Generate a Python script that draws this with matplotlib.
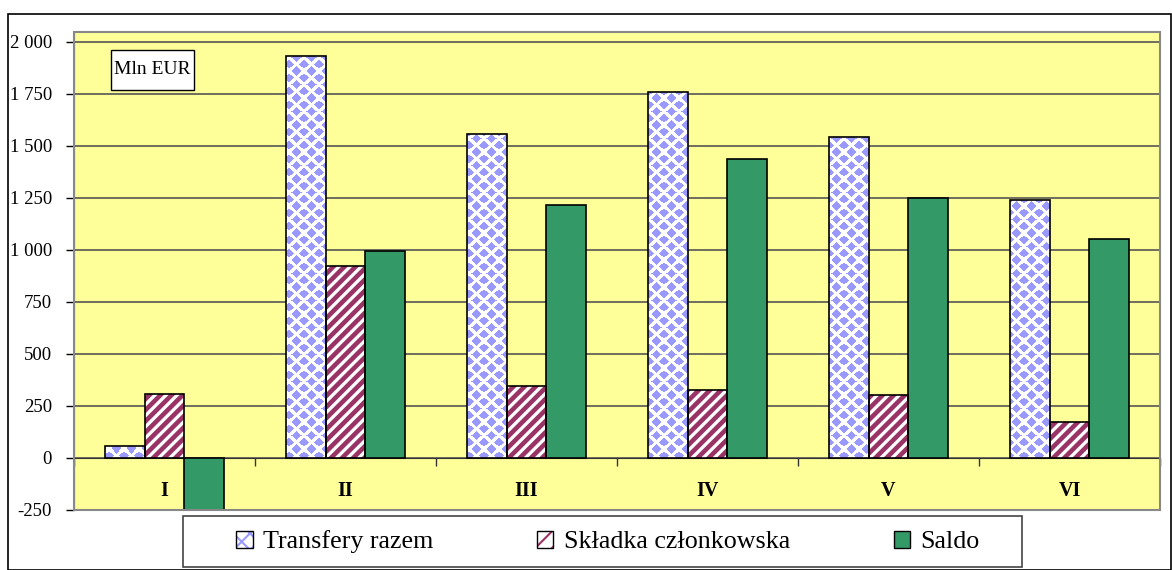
import matplotlib
matplotlib.use("Agg")
import matplotlib.pyplot as plt
import numpy as np
from matplotlib.patches import Rectangle, Patch
from matplotlib.ticker import FuncFormatter
from matplotlib.colors import to_rgb

categories = ["I", "II", "III", "IV", "V", "VI"]
transfery = [58, 1932, 1557, 1759, 1542, 1239]
skladka = [308, 925, 347, 328, 304, 173]
saldo = [-265, 993, 1214, 1436, 1248, 1055]
series_names = ["Transfery razem", "Składka członkowska", "Saldo"]
yticks = [-250, 0, 250, 500, 750, 1000, 1250, 1500, 1750, 2000]

plt.rcParams['font.family'] = ['Liberation Serif', 'DejaVu Serif']

W, H = 1172, 570
fig = plt.figure(figsize=(W/100, H/100), dpi=100)
fig.patches.append(Rectangle((8/W, 0), 1 - 8/W - 0.0005, 1 - 14/H,
                             transform=fig.transFigure, fill=False,
                             edgecolor='black', linewidth=1.2))

ax_l, ax_r, ax_t, ax_b = 74, 1160, 32, 510
ax = fig.add_axes([ax_l/W, 1 - ax_b/H, (ax_r - ax_l)/W, (ax_b - ax_t)/H])
ax.set_facecolor('#FFFF99')

# diamond-lattice texture for "Transfery razem"
pw, ph = ax_r - ax_l, ax_b - ax_t
yy, xx = np.mgrid[0:ph, 0:pw]
Xn, Yn = (xx + 3) / 15.0, (yy + 2) / 13.5
a, b = Xn + Yn, Xn - Yn
r = 0.34
mask = (np.abs(a - np.round(a)) <= r) & (np.abs(b - np.round(b)) <= r)
tex = np.ones((ph, pw, 3))
tex[mask] = to_rgb('#9999FF')

x = np.arange(len(categories))
w = 0.22
bars1 = ax.bar(x - w, transfery, w, facecolor='white', edgecolor='none',
               linewidth=0, zorder=3)
for p in bars1:
    im = ax.imshow(tex, extent=[0, 1, 0, 1], transform=ax.transAxes,
                   interpolation='nearest', aspect='auto', zorder=3.5)
    im.set_clip_path(p)
ax.bar(x - w, transfery, w, fill=False, edgecolor='black', linewidth=1.2, zorder=4)
plt.rcParams['hatch.linewidth'] = 3.3
ax.bar(x, skladka, w, facecolor='white', edgecolor='#993366',
       hatch='///', linewidth=0, zorder=3)
ax.bar(x, skladka, w, fill=False, edgecolor='black', linewidth=1.2, zorder=4)
ax.bar(x + w, saldo, w, facecolor='#339966', edgecolor='black',
       linewidth=1.2, zorder=3)

ax.set_ylim(-250, 2048)
ax.set_xlim(-0.5, len(categories) - 0.5)
ax.set_yticks(yticks)
ax.yaxis.set_major_formatter(FuncFormatter(
    lambda v, p: f"{int(v):,}".replace(",", " ")))
ax.tick_params(axis='y', labelsize=13.5, direction='out', length=6, width=1,
               pad=10)
ax.grid(axis='y', color='#555555', linewidth=1.2, zorder=1)
ax.set_axisbelow(True)

for s in ['top', 'right']:
    ax.spines[s].set_visible(False)
ax.spines['left'].set_color('#333333')
ax.spines['bottom'].set_position(('data', 0))
ax.spines['bottom'].set_color('#333333')
ax.set_xticks(np.arange(len(categories) + 1) - 0.5)
ax.set_xticklabels([])
ax.tick_params(axis='x', direction='out', length=6, width=1, color='#333333')
ax.add_patch(Rectangle((0, 0), 1, 1, transform=ax.transAxes, fill=False,
                       edgecolor='#888888', linewidth=1.5, zorder=5,
                       clip_on=False))

for i, c in enumerate(categories):
    ax.text(i, -160, c, ha='center', va='center', fontsize=14.5,
            fontweight='bold', zorder=6)

# "Mln EUR" label box
ax.add_patch(Rectangle(((111 - ax_l)/pw, (ax_b - 90)/ph), 83/pw, 40/ph,
                       transform=ax.transAxes, facecolor='white',
                       edgecolor='black', linewidth=1, zorder=6))
ax.text((152.5 - ax_l)/pw, (ax_b - 70)/ph, "Mln EUR", transform=ax.transAxes,
        fontsize=14, ha='center', va='center', zorder=7)

# legend
fig.patches.append(Rectangle((183/W, 1 - 567/H), (1022 - 183)/W, 51/H,
                             transform=fig.transFigure, facecolor='white',
                             edgecolor='#444444', linewidth=1.2))
plt.rcParams['hatch.linewidth'] = 1.5
h1 = Patch(facecolor='white', edgecolor='#9999FF', hatch='xx', linewidth=0)
h2 = Patch(facecolor='white', edgecolor='#993366', hatch='//', linewidth=0)
h3 = Patch(facecolor='#339966', edgecolor='black', linewidth=1)
hb = Patch(fill=False, edgecolor='black', linewidth=1)

leg = fig.legend([(h1, hb), (h2, hb), h3], series_names, loc='center',
                 bbox_to_anchor=(608/W, 1 - 542/H), ncol=3,
                 fontsize=18.7, frameon=False,
                 handlelength=0.62, handleheight=0.62, handletextpad=0.4,
                 columnspacing=4.0, borderpad=0.3)

fig.savefig("out.png", dpi=100)
